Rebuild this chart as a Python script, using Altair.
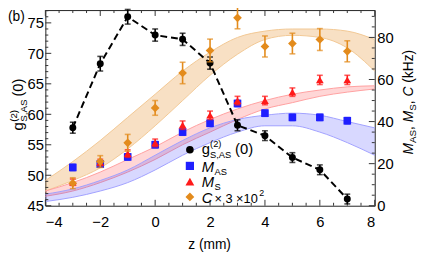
import altair as alt
import pandas as pd

# ---------------- data ----------------
z = [-3, -2, -1, 0, 1, 2, 3, 4, 5, 6, 7]
g2 = [57.8, 68.3, 76.0, 73.0, 72.3, 68.4, 58.2, 56.5, 52.9, 50.9, 46.1]
g2_err = [0.9, 1.2, 1.2, 1.0, 1.0, 1.0, 0.9, 0.8, 0.8, 0.8, 0.8]
m_as = [18.2, 19.8, 23.2, 29.0, 35.0, 39.2, 48.6, 44.0, 42.0, 42.0, 40.4]
m_as_err = [1.5, 1.5, 1.5, 1.5, 1.5, 1.5, 1.5, 1.5, 1.5, 1.5, 1.5]
m_s = [11.2, 20.6, 24.8, 29.9, 38.3, 43.0, 50.0, 50.0, 54.0, 59.8, 59.8]
m_s_err = [1.5, 1.5, 1.8, 1.8, 2.0, 2.0, 2.0, 2.0, 2.0, 2.2, 2.2]
c300 = [10.7, 21.0, 29.9, 46.5, 63.1, 73.8, 89.3, 75.7, 77.1, 79.0, 73.4]
c300_err = [2.6, 2.8, 4.0, 3.5, 5.1, 5.4, 5.2, 5.0, 4.9, 5.2, 5.0]

# theory bands
zb = [-4, -3, -2, -1, 0, 1, 2, 3, 4, 5, 6, 7, 8]
as_lo = [2, 4, 7, 11, 17, 24, 30, 35, 38, 38, 35, 30, 24]
as_hi = [5.5, 8, 12, 17, 24, 31, 37, 41, 43, 44, 43, 40, 37]
s_lo = [4.5, 7, 11, 16, 22, 29, 35, 41, 46, 49, 52, 54, 55.5]
s_hi = [7, 11, 16, 22, 28, 35, 41, 46, 50, 53, 55, 56.5, 57]
c_lo = [7, 12, 18, 27, 38, 50, 62, 72, 79, 81, 80, 75, 64]
c_hi = [12, 21, 31, 42, 53, 64, 73, 80, 83, 84, 84, 83, 79]

x_major = [-4, -2, 0, 2, 4, 6, 8]
yl_major = [45, 50, 55, 60, 65, 70, 75]
yr_major = [0, 20, 40, 60, 80]

# ---------------- layout ----------------
W, H = 335, 199
FONT = "Liberation Sans"
BLUE = "#1f1fff"
RED = "#ff1a1a"
ORANGE = "#e38b1c"

xs = alt.Scale(domain=[-4, 8], nice=False, zero=False)
yl = alt.Scale(domain=[45, 77.1], nice=False, zero=False)
yr = alt.Scale(domain=[0, 93], nice=False, zero=False)

ax_x = alt.Axis(values=x_major, title=None, labelPadding=9, orient="bottom")
ax_l = alt.Axis(values=yl_major, title=None, labelPadding=2, orient="left")
ax_r = alt.Axis(values=yr_major, title=None, labelPadding=2, orient="right")

pts = pd.DataFrame({
    "z": z,
    "g2": g2,
    "g2_lo": [v - e for v, e in zip(g2, g2_err)],
    "g2_hi": [v + e for v, e in zip(g2, g2_err)],
    "mas": m_as,
    "mas_lo": [v - e for v, e in zip(m_as, m_as_err)],
    "mas_hi": [v + e for v, e in zip(m_as, m_as_err)],
    "ms": m_s,
    "ms_lo": [v - e for v, e in zip(m_s, m_s_err)],
    "ms_hi": [v + e for v, e in zip(m_s, m_s_err)],
    "c": c300,
    "c_lo": [v - e for v, e in zip(c300, c300_err)],
    "c_hi": [v + e for v, e in zip(c300, c300_err)],
})
bands = pd.DataFrame({"z": zb, "as_lo": as_lo, "as_hi": as_hi,
                      "s_lo": s_lo, "s_hi": s_hi, "c_lo": c_lo, "c_hi": c_hi})

X = alt.X("z:Q", scale=xs, axis=ax_x)


def YL(f):
    return alt.Y(f + ":Q", scale=yl, axis=ax_l)


def YR(f, axis=ax_r):
    return alt.Y(f + ":Q", scale=yr, axis=axis)


# ---------------- bands (right scale) ----------------
band_layers = []
for lo, hi, fill, op, edge in [("c_lo", "c_hi", "#eba756", 0.35, "#f2c894"),
                               ("s_lo", "s_hi", "#ff3030", 0.2, "#ffa0a0"),
                               ("as_lo", "as_hi", "#3a3aff", 0.2, "#a0a0ff")]:
    b = alt.Chart(bands)
    band_layers.append(b.mark_area(interpolate="monotone", color=fill, opacity=op)
                       .encode(x=X, y=YR(hi, None), y2=alt.Y2(lo)))
    band_layers.append(b.mark_line(interpolate="monotone", color=edge, strokeWidth=1)
                       .encode(x=X, y=YR(hi, None)))
    band_layers.append(b.mark_line(interpolate="monotone", color=edge, strokeWidth=1)
                       .encode(x=X, y=YR(lo, None)))
band_group = alt.layer(*band_layers)

# ---------------- left group: g2 + frame ticks ----------------
base = alt.Chart(pts)
g_line = base.mark_line(color="black", strokeDash=[7, 4], strokeWidth=2).encode(x=X, y=YL("g2"))
g_bar = base.mark_rule(color="black", strokeWidth=1.6).encode(x=X, y=YL("g2_lo"), y2=alt.Y2("g2_hi"))
g_cap1 = base.mark_tick(orient="horizontal", size=6, thickness=1.6, color="black").encode(x=X, y=YL("g2_lo"))
g_cap2 = base.mark_tick(orient="horizontal", size=6, thickness=1.6, color="black").encode(x=X, y=YL("g2_hi"))
g_pt = base.mark_point(shape="circle", filled=True, size=50, color="black", opacity=1).encode(x=X, y=YL("g2"))

x_minor = [v / 2 for v in range(-8, 17) if v % 4 != 0]
yl_minor = [v for v in range(46, 78) if v % 5 != 0]
tick_col = "#333333"
tx_maj = pd.DataFrame({"z": x_major})
tx_min = pd.DataFrame({"z": x_minor})
tl_maj = pd.DataFrame({"v": yl_major})
tl_min = pd.DataFrame({"v": yl_minor})
ticks_left = [
    alt.Chart(tx_maj).mark_rule(color=tick_col).encode(x=X, y=alt.value(H), y2=alt.value(H - 6)),
    alt.Chart(tx_min).mark_rule(color=tick_col).encode(x=X, y=alt.value(H), y2=alt.value(H - 3)),
    alt.Chart(tx_maj).mark_rule(color=tick_col).encode(x=X, y=alt.value(0), y2=alt.value(6)),
    alt.Chart(tx_min).mark_rule(color=tick_col).encode(x=X, y=alt.value(0), y2=alt.value(3)),
    alt.Chart(tl_maj).mark_rule(color=tick_col).encode(y=YL("v"), x=alt.value(0), x2=alt.value(6)),
    alt.Chart(tl_min).mark_rule(color=tick_col).encode(y=YL("v"), x=alt.value(0), x2=alt.value(3)),
]
left_group = alt.layer(*ticks_left, g_line, g_bar, g_cap1, g_cap2, g_pt)

# ---------------- right group: M_AS, M_S, C ----------------
yr_minor = [v for v in range(5, 93, 5) if v % 20 != 0]
tr_maj = pd.DataFrame({"v": yr_major})
tr_min = pd.DataFrame({"v": yr_minor})
right_layers = [
    alt.Chart(tr_maj).mark_rule(color=tick_col).encode(y=YR("v"), x=alt.value(W), x2=alt.value(W - 6)),
    alt.Chart(tr_min).mark_rule(color=tick_col).encode(y=YR("v"), x=alt.value(W), x2=alt.value(W - 3)),
]
for f, col, shape, size in [("mas", BLUE, "square", 60), ("ms", RED, "triangle-up", 62),
                            ("c", ORANGE, "diamond", 78)]:
    right_layers.append(base.mark_rule(color=col, strokeWidth=1.6)
                        .encode(x=X, y=YR(f + "_lo"), y2=alt.Y2(f + "_hi")))
    right_layers.append(base.mark_tick(orient="horizontal", size=6, thickness=1.6, color=col)
                        .encode(x=X, y=YR(f + "_lo")))
    right_layers.append(base.mark_tick(orient="horizontal", size=6, thickness=1.6, color=col)
                        .encode(x=X, y=YR(f + "_hi")))
    right_layers.append(base.mark_point(shape=shape, filled=True, size=size, color=col, opacity=1)
                        .encode(x=X, y=YR(f)))
right_group = alt.layer(*right_layers)

# ---------------- text and legend ----------------
one = pd.DataFrame({"k": [0]})


def txt(s, x, y, size=15, italic=False, angle=0, align="left", baseline="alphabetic"):
    kw = dict(text=s, fontSize=size, font=FONT, align=align, baseline=baseline, color="black")
    if italic:
        kw["fontStyle"] = "italic"
    if angle:
        kw["angle"] = angle
    return alt.Chart(one).mark_text(**kw).encode(x=alt.value(x), y=alt.value(y))


def sym(shape, col, x, y, size):
    return alt.Chart(one).mark_point(shape=shape, filled=True, size=size, color=col, opacity=1).encode(
        x=alt.value(x), y=alt.value(y))


ann = [
    txt("(b)", -38, 11, 14),
    txt("z (mm)", 167, 243, 14, align="center"),
    # left axis title
    txt("g", -22.5, 122.5, 15, angle=270),
    txt("(2)", -28.5, 113.7, 10, angle=270),
    txt("S,AS", -18.5, 113.7, 10, angle=270),
    txt("(0)", -22.5, 88, 15, angle=270),
    # right axis title
    txt("M", 374, 147, 14, italic=True, angle=270),
    txt("AS", 376.5, 135.3, 10, angle=270),
    txt(",", 374, 122, 14, angle=270),
    txt("M", 374, 114.2, 14, italic=True, angle=270),
    txt("S", 376.5, 102.5, 10, angle=270),
    txt(",", 374, 95.8, 14, angle=270),
    txt("C", 374, 88, 14, italic=True, angle=270),
    txt("(kHz)", 374, 73.9, 14, angle=270),
    # legend
    sym("circle", "black", 147, 142, 60),
    sym("square", BLUE, 147, 158.5, 70),
    sym("triangle-up", RED, 147, 174.5, 80),
    sym("diamond", ORANGE, 147, 190, 80),
    txt("g", 159, 146, 15),
    txt("(2)", 167.5, 139, 9.5),
    txt("S,AS", 167.5, 150.5, 9.5),
    txt("(0)", 193, 146, 15),
    txt("M", 159, 164.4, 15, italic=True),
    txt("AS", 172, 167.5, 9.5),
    txt("M", 159, 180.4, 15, italic=True),
    txt("S", 172, 182.8, 9.5),
    txt("C", 159, 196, 15, italic=True),
    txt("× 3 ×10", 172, 196, 13),
    txt("2", 217.5, 189.5, 9),
]
ann_group = alt.layer(*ann)

chart = alt.layer(band_group, left_group, right_group, ann_group).resolve_scale(
    y="independent"
).properties(
    width=W, height=H,
    autosize=alt.AutoSizeParams(type="none"),
    padding={"left": 38, "top": 0, "right": 44, "bottom": 48},
).configure_view(
    stroke="#222222", strokeWidth=1
).configure_axis(
    labelFont=FONT, labelFontSize=15, labelColor="black",
    ticks=False, domain=False, grid=False
)

chart.save("out.html", embed_options={"renderer": "svg", "actions": False})
